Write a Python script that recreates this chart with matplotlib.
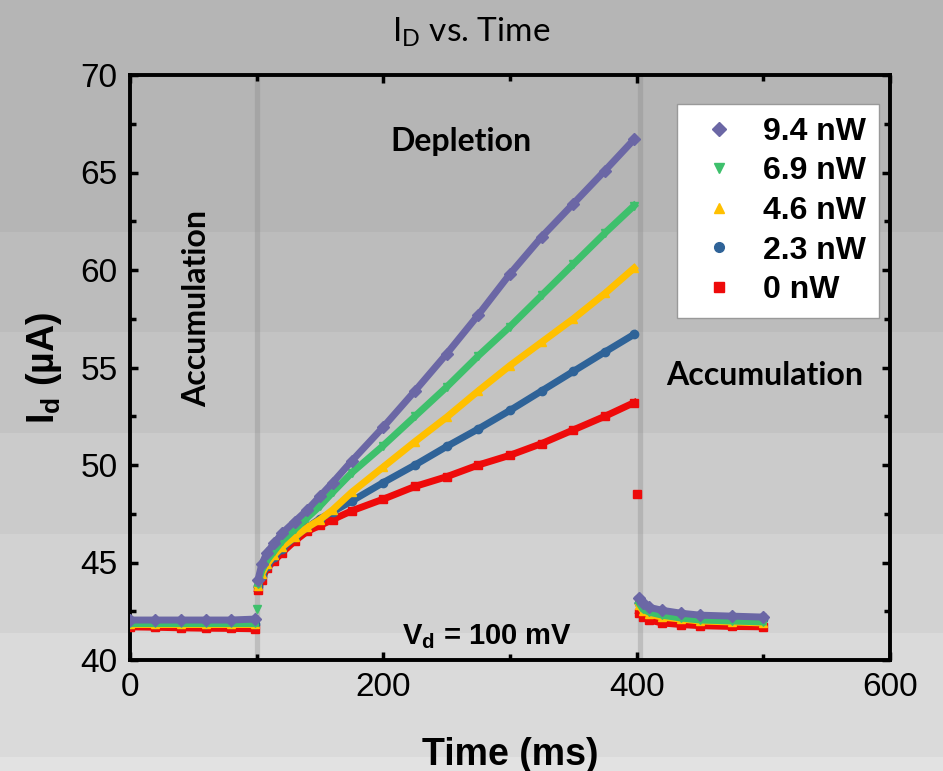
import numpy as np
import matplotlib
matplotlib.use('Agg')
import matplotlib.pyplot as plt
from matplotlib.lines import Line2D
from matplotlib.patches import Rectangle

plt.rcParams['font.family'] = ['Liberation Sans', 'DejaVu Sans']
plt.rcParams['mathtext.fontset'] = 'custom'
plt.rcParams['mathtext.rm'] = 'Liberation Sans'
plt.rcParams['mathtext.bf'] = 'Liberation Sans:bold'
plt.rcParams['mathtext.it'] = 'Liberation Sans:italic'

# time axes of the three phases (ms)
t_acc1 = [0, 20, 40, 60, 80, 99]
t_dep = [101, 104, 108, 114, 120, 130, 140, 150, 160, 175, 200, 225, 250,
         275, 300, 325, 350, 375, 398]
t_acc2 = [402, 405, 410, 420, 435, 450, 475, 500]

# I_d (uA) per light power
p94_acc1 = [42.05, 42.05, 42.05, 42.05, 42.05, 42.1]
p94_dep = [44.1, 44.9, 45.5, 46.0, 46.5, 47.1, 47.7, 48.4, 49.1, 50.2, 51.95,
           53.8, 55.7, 57.7, 59.8, 61.7, 63.4, 65.1, 66.7]
p94_acc2 = [43.2, 42.9, 42.7, 42.55, 42.4, 42.3, 42.25, 42.2]

p69_acc1 = [41.9, 41.9, 41.9, 41.9, 41.9, 41.9]
p69_dep = [43.9, 44.6, 45.1, 45.6, 46.1, 46.7, 47.3, 47.9, 48.6, 49.6, 51.0,
           52.5, 54.0, 55.6, 57.1, 58.7, 60.3, 61.9, 63.3]
p69_acc2 = [42.9, 42.6, 42.45, 42.3, 42.15, 42.05, 42.0, 41.95]

p46_acc1 = [41.85, 41.85, 41.85, 41.85, 41.85, 41.85]
p46_dep = [43.8, 44.4, 44.9, 45.4, 45.8, 46.3, 46.8, 47.2, 47.7, 48.6, 49.9,
           51.2, 52.45, 53.8, 55.1, 56.3, 57.5, 58.8, 60.1]
p46_acc2 = [42.8, 42.5, 42.35, 42.2, 42.1, 42.0, 41.95, 41.9]

p23_acc1 = [41.85, 41.85, 41.85, 41.85, 41.85, 41.85]
p23_dep = [43.8, 44.3, 44.8, 45.3, 45.7, 46.3, 46.8, 47.25, 47.6, 48.15, 49.1,
           50.0, 50.95, 51.85, 52.8, 53.8, 54.8, 55.8, 56.7]
p23_acc2 = [42.9, 42.7, 42.5, 42.4, 42.3, 42.2, 42.15, 42.1]

p0_acc1 = [41.7, 41.68, 41.65, 41.63, 41.62, 41.6]
p0_dep = [43.6, 44.1, 44.7, 45.1, 45.5, 46.1, 46.6, 46.9, 47.2, 47.65, 48.25,
          48.9, 49.4, 50.0, 50.5, 51.1, 51.8, 52.5, 53.2]
p0_acc2 = [42.4, 42.2, 42.05, 41.9, 41.82, 41.76, 41.72, 41.7]

# lone points off the bands
green_spike_t, green_spike_v = [100], [42.6]
red_drop_t, red_drop_v = [400], [48.5]

labels = ['9.4 nW', '6.9 nW', '4.6 nW', '2.3 nW', '0 nW']
colors = ['#6b67a5', '#3ec06c', '#ffc000', '#2f6398', '#ee0a0a']
markers = ['D', 'v', '^', 'o', 's']
series = [(p94_acc1, p94_dep, p94_acc2), (p69_acc1, p69_dep, p69_acc2),
          (p46_acc1, p46_dep, p46_acc2), (p23_acc1, p23_dep, p23_acc2),
          (p0_acc1, p0_dep, p0_acc2)]

fig = plt.figure(figsize=(9.43, 7.71), dpi=100)

# gray banded slide background
band_edges = [0, 232, 332, 433, 534, 633, 757, 771]
band_grays = [181, 188, 195, 203, 210, 218, 226]
for i, g in enumerate(band_grays):
    y0 = 1 - band_edges[i + 1] / 771
    h = (band_edges[i + 1] - band_edges[i]) / 771
    fig.patches.append(Rectangle((0, y0), 1, h, transform=fig.transFigure,
                                 facecolor=(g / 255,) * 3, edgecolor='none', zorder=-10))

ax = fig.add_axes([130 / 943, 1 - 660 / 771, 760 / 943, 585 / 771])
ax.set_facecolor('none')

ax.axvline(100, color='gray', alpha=0.3, lw=3.8, zorder=1)
ax.axvline(403, color='gray', alpha=0.3, lw=3.8, zorder=1)

# draw 0 nW first so 9.4 nW ends up on top
for k in range(4, -1, -1):
    for t, v in zip([t_acc1, t_dep, t_acc2], series[k]):
        ax.plot(t, v, color=colors[k], lw=5, marker=markers[k], ms=6,
                mec=colors[k], zorder=3 + (4 - k))
ax.plot(green_spike_t, green_spike_v, 'v', color=colors[1], ms=6, zorder=8)
ax.plot(red_drop_t, red_drop_v, 's', color=colors[4], ms=6, zorder=8)

ax.set_xlim(0, 600)
ax.set_ylim(40, 70)
ax.set_xticks([0, 200, 400, 600])
ax.set_xticks([100, 300, 500], minor=True)
ax.set_yticks([40, 45, 50, 55, 60, 65, 70])
ax.set_yticks(np.arange(42.5, 70, 5), minor=True)
ax.tick_params(which='both', direction='in', top=True, right=True, width=2.5)
ax.tick_params(which='major', length=6, labelsize=24, pad=9)
ax.tick_params(which='minor', length=4)
for s in ax.spines.values():
    s.set_linewidth(2.8)

ax.set_xlabel('Time (ms)', fontsize=27, fontweight='bold', labelpad=24)
ax.set_ylabel(r'$\mathbf{I_d}$ (µA)', fontsize=27, fontweight='bold', labelpad=12)

fig.text(0.5, 1 - 32 / 771, r'I$_\mathregular{D}$ vs. Time', ha='center', va='center',
         fontsize=24, family=['Lato', 'DejaVu Sans'])

ax.text(261, 66.6, 'Depletion', ha='center', va='center', fontsize=23,
        fontweight='bold', family=['Lato', 'DejaVu Sans'])
ax.text(53, 58.05, 'Accumulation', ha='center', va='center', rotation=90,
        fontsize=23, fontweight='bold', family=['Lato', 'DejaVu Sans'])
ax.text(501, 54.6, 'Accumulation', ha='center', va='center', fontsize=23,
        fontweight='bold', family=['Lato', 'DejaVu Sans'])
ax.text(282, 41.2, r'V$_\mathbf{d}$ = 100 mV', ha='center', va='center',
        fontsize=21, fontweight='bold')

handles = [Line2D([], [], ls='none', marker=markers[k], color=colors[k], ms=7)
           for k in range(5)]
leg = ax.legend(handles, labels, loc='upper right', bbox_to_anchor=(879 / 943, 1 - 104 / 771),
                bbox_transform=fig.transFigure, borderaxespad=0, fancybox=False,
                framealpha=1, edgecolor='#999999', prop={'weight': 'bold', 'size': 23},
                labelspacing=0.3, borderpad=0.4, handlelength=1.8, handletextpad=0.5)
leg.get_frame().set_linewidth(1.0)

fig.savefig('out.png', dpi=100)
